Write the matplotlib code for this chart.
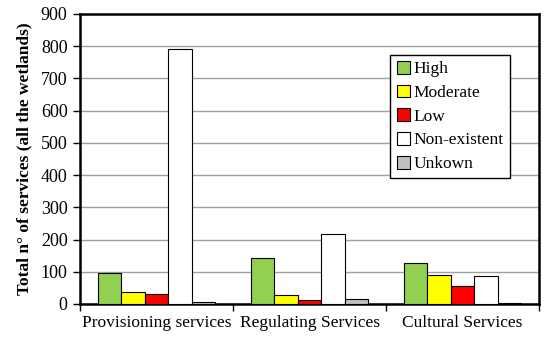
import numpy as np
import matplotlib.pyplot as plt

plt.rcParams['font.family'] = 'Liberation Serif'

categories = ['Provisioning services', 'Regulating Services', 'Cultural Services']
series = ['High', 'Moderate', 'Low', 'Non-existent', 'Unkown']
high = [95, 142, 126]
moderate = [36, 28, 90]
low = [30, 12, 56]
non_existent = [790, 218, 87]
unknown = [7, 15, 2]
colors = ['#92d050', '#ffff00', '#ff0000', '#ffffff', '#c0c0c0']

values = [high, moderate, low, non_existent, unknown]

fig = plt.figure(figsize=(5.47, 3.38), dpi=100)
ax = fig.add_axes([80 / 547, 1 - 304 / 338, 459 / 547, 290 / 338])

x = np.arange(len(categories))
w = 0.77 / 5
for i, (name, vals) in enumerate(zip(series, values)):
    ax.bar(x - 0.385 + w * (i + 0.5), vals, w, color=colors[i],
           edgecolor='black', linewidth=0.8, label=name, zorder=3)

ax.set_xlim(-0.5, 2.5)
ax.set_ylim(0, 900)
ax.set_yticks(range(0, 901, 100))
ax.yaxis.grid(True, color='#a0a0a0', linewidth=1, zorder=0)
ax.set_xticks([-0.5, 0.5, 1.5, 2.5])
ax.set_xticklabels([])
ax.set_xticks(x, minor=True)
ax.set_xticklabels(categories, minor=True, fontsize=12.5)
ax.tick_params(axis='x', which='minor', length=0, pad=8)
ax.tick_params(axis='x', which='major', length=5, width=1)
ax.tick_params(axis='y', length=5, width=1, labelsize=13, pad=4)
for s in ax.spines.values():
    s.set_linewidth(1.8)

ax.set_ylabel('Total n° of services (all the wetlands)', fontsize=12.5,
              fontweight='bold', labelpad=6)

ax.legend(loc='upper right', bbox_to_anchor=(0.937, 0.859), borderaxespad=0,
          fontsize=12.5, frameon=True, fancybox=False, edgecolor='black',
          framealpha=1, handlelength=0.75, handleheight=0.75,
          handletextpad=0.25, labelspacing=0.42, borderpad=0.35)

fig.savefig('out.png', dpi=100)
